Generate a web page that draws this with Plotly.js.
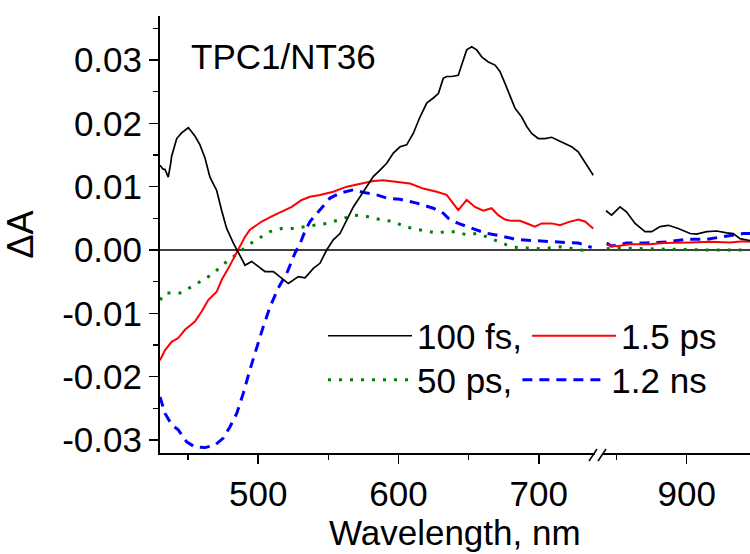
<!DOCTYPE html>
<html>
<head>
<meta charset="utf-8">
<script src="https://cdn.plot.ly/plotly-3.0.1.min.js"></script>
<style>html,body{margin:0;padding:0;background:#fff;}#chart{width:750px;height:554px;}</style>
</head>
<body>
<div id="chart"></div>
<script>
// ---- data (wavelength in nm, ΔA) ----
const seriesNames = ["100 fs,", "1.5 ps", "50 ps,", "1.2 ns"];

// 100 fs, visible segment
const wl100fsA = [430,432,433.6,435.9,437.5,438.3,441.9,445.4,450.2,454.9,458.5,462.1,465.6,470.4,474,477.5,482.3,485.8,490.6,495.3,500.1,504.8,510.8,515.5,521.5,528.6,533.4,539.3,544,548.8,553.5,558.3,563.1,567.8,572.6,577.3,582,586.8,591.6,596.3,601.1,605.8,610.5,615.3,620.1,624.8,628.4,631.9,634.3,637.9,642.6,645,648.6,652.2,655.7,659.3,664,668.8,672.3,675.9,679.5,683,687.8,691.4,694.9,699.6,704.4,709.2,713.9,718.7,723.4,728.1,731.7,735.3,738.8];
const dA100fsA = [0.0134,0.0128,0.0127,0.0115,0.0135,0.0148,0.0176,0.0185,0.0193,0.0180,0.0166,0.0145,0.0115,0.0094,0.0062,0.0034,0.0011,-0.0003,-0.0024,-0.0018,-0.0026,-0.0034,-0.0034,-0.0042,-0.0053,-0.0042,-0.0044,-0.0029,-0.0021,0.0000,0.0016,0.0026,0.0047,0.0068,0.0084,0.0100,0.0116,0.0126,0.0137,0.0153,0.0163,0.0166,0.0184,0.0210,0.0232,0.0240,0.0247,0.0271,0.0274,0.0274,0.0276,0.0292,0.0316,0.0321,0.0316,0.0305,0.0297,0.0292,0.0282,0.0263,0.0242,0.0224,0.0210,0.0195,0.0184,0.0176,0.0176,0.0178,0.0173,0.0168,0.0163,0.0155,0.0142,0.0129,0.0118];
// 100 fs, near-IR segment
const wl100fsB = [842.5,846.5,852.5,857.2,863.2,870.3,875.1,881,886.9,894,902.4,907.1,914.3,921.4,928.5,933.2,938,945.1];
const dA100fsB = [0.0062,0.0055,0.0068,0.0060,0.0042,0.0029,0.0029,0.0037,0.0039,0.0034,0.0026,0.0025,0.0029,0.0030,0.0027,0.0026,0.0018,0.0015];

// 1.5 ps
const wl15psA = [430,433.6,438.3,443,447.8,454.9,459.7,464.4,470.4,474,478.7,483.5,487,490.6,494.1,502.5,509.6,516.7,523.9,531,536.9,544,553.5,563.1,572.6,582,589.1,598.7,608.2,617.7,627.2,634.3,637.9,642.6,648.6,654.5,660.4,666.3,671.1,675.9,680.6,686.5,692.5,697.2,702,709.2,715.1,721,728.1,732.9,738.8];
const dA15psA = [-0.0174,-0.0158,-0.0145,-0.0139,-0.0126,-0.0113,-0.0097,-0.0079,-0.0066,-0.0047,-0.0029,-0.0008,0.0005,0.0021,0.0032,0.0045,0.0053,0.0060,0.0068,0.0079,0.0084,0.0087,0.0092,0.0100,0.0105,0.0109,0.0110,0.0108,0.0105,0.0097,0.0092,0.0087,0.0076,0.0063,0.0079,0.0068,0.0062,0.0066,0.0055,0.0048,0.0046,0.0046,0.0041,0.0037,0.0042,0.0042,0.0039,0.0044,0.0048,0.0045,0.0034];
const wl15psB = [843,850.1,859.6,873.8,883.3,892.9,902.4,916.6,930.9,940.3,945.1];
const dA15psB = [0.0008,0.0006,0.0009,0.0009,0.0011,0.0011,0.0012,0.0013,0.0012,0.0014,0.0013];

// 50 ps
const wl50psA = [430,433.6,444.3,454.9,466.8,478.7,485.8,492.9,500.1,508.4,516.7,526.2,533.4,536.9,548.8,558.3,567.8,577.3,586.8,596.3,603.4,611.8,620.1,627.2,634.3,640.3,648.6,655.7,662.8,670,677.1,684.2,691.4,698.5,706.8,715.1,719.9,728.1,736.5];
const dA50psA = [-0.0079,-0.0068,-0.0068,-0.0055,-0.0039,-0.0016,-0.0005,0.0008,0.0018,0.0029,0.0034,0.0034,0.0037,0.0038,0.0042,0.0048,0.0055,0.0053,0.0048,0.0045,0.0038,0.0033,0.0030,0.0027,0.0029,0.0029,0.0024,0.0026,0.0021,0.0015,0.0008,0.0004,0.0003,0.0002,0.0003,0.0005,0.0004,0.0000,-0.0001];
const wl50psB = [843,855,870,885,900,915,930,945];
const dA50psB = [0.0002,0.0003,0.0002,0.0001,0.0001,0.0000,0.0000,0.0000];

// 1.2 ns
const wl12nsA = [430,433.6,438.3,443,449,454.9,462.1,469.2,475.1,479.9,484.7,489.4,494.1,498.9,503.6,508.4,514.3,520.3,526.2,529.8,533.4,536.9,544,551.2,558.3,567.8,574.9,584.5,591.6,601.1,613,624.8,631.9,635.5,642.6,652.2,661.6,673.5,683,694.9,706.8,718.7,728.1,735.3,737.7];
const dA12nsA = [-0.0232,-0.0258,-0.0276,-0.0284,-0.0303,-0.0311,-0.0312,-0.0308,-0.0297,-0.0279,-0.0258,-0.0226,-0.0189,-0.0153,-0.0121,-0.0090,-0.0060,-0.0037,-0.0005,0.0010,0.0030,0.0045,0.0063,0.0082,0.0090,0.0095,0.0091,0.0087,0.0082,0.0080,0.0074,0.0066,0.0058,0.0050,0.0042,0.0034,0.0027,0.0022,0.0017,0.0015,0.0013,0.0012,0.0011,0.0006,0.0004];
const wl12nsB = [843,846.5,857.2,871.5,886.9,900,914.3,928.5,940.3,945.1];
const dA12nsB = [0.0011,0.0006,0.0011,0.0011,0.0013,0.0017,0.0017,0.0022,0.0026,0.0026];

// axis ticks
const xTickVals1 = [500, 600, 700];
const xTickVals2 = [900];
const yTickVals = [-0.03, -0.02, -0.01, 0.00, 0.01, 0.02, 0.03];
const yTickText = ["-0.03", "-0.02", "-0.01", "0.00", "0.01", "0.02", "0.03"];
const sampleLabel = "TPC1/NT36";
const xTitle = "Wavelength, nm";
const yTitle = "\u0394A";

// ---- styling ----
const FONT = "Liberation Sans, Arial, sans-serif";
const FS = 35;
const styles = [
  {color: "#000000", width: 1.7, dash: "solid", legend: "legend"},
  {color: "#ff0000", width: 2, dash: "solid", legend: "legend"},
  {color: "#008000", width: 3, dash: "3px,8px", legend: "legend2"},
  {color: "#0000ff", width: 3, dash: "10px,7px", legend: "legend2"}
];
const segA = [[wl100fsA, dA100fsA], [wl15psA, dA15psA], [wl50psA, dA50psA], [wl12nsA, dA12nsA]];
const segB = [[wl100fsB, dA100fsB], [wl15psB, dA15psB], [wl50psB, dA50psB], [wl12nsB, dA12nsB]];

const traces = [];
const drawOrder = [2, 3, 1, 0];
drawOrder.forEach(i => {
  const s = styles[i];
  traces.push({x: segA[i][0], y: segA[i][1], xaxis: "x", yaxis: "y", type: "scatter", mode: "lines",
    name: seriesNames[i], legend: s.legend, legendrank: i,
    line: {color: s.color, width: s.width, dash: s.dash}, showlegend: true});
  traces.push({x: segB[i][0], y: segB[i][1], xaxis: "x2", yaxis: "y", type: "scatter", mode: "lines",
    name: seriesNames[i], legend: s.legend, showlegend: false,
    line: {color: s.color, width: s.width, dash: s.dash}});
});

// geometry (px) -> paper
const L = 160, R = 750, T = 16, B = 453;
const W = R - L, H = B - T;
const px2paper = p => (p - L) / W;
const py2paper = p => (B - p) / H;
const pxPerNm = 1.403;
const brk1 = 595, brk2 = 603;

const axBase = {
  showline: true, linecolor: "#000", linewidth: 2, mirror: false,
  ticks: "outside", ticklen: 9, tickwidth: 1.5, tickcolor: "#000",
  showgrid: false, zeroline: false,
  tickfont: {family: FONT, size: FS, color: "#000"},
  minor: {ticks: "outside", ticklen: 5, tickwidth: 1.5, tickcolor: "#000", showgrid: false}
};

const layout = {
  width: 750, height: 554,
  margin: {l: L, r: 750 - R, t: T, b: 554 - B, pad: 0},
  paper_bgcolor: "#fff", plot_bgcolor: "#fff",
  font: {family: FONT, size: FS, color: "#000"},
  xaxis: Object.assign({}, axBase, {
    domain: [0, px2paper(brk1)],
    range: [430, 430 + (brk1 - L) / pxPerNm],
    tickmode: "array", tickvals: xTickVals1, ticktext: xTickVals1.map(String),
    minor: Object.assign({}, axBase.minor, {tickmode: "linear", tick0: 450, dtick: 100}),
    anchor: "y"
  }),
  xaxis2: Object.assign({}, axBase, {
    domain: [px2paper(brk2), 1],
    range: [900 - (686.7 - brk2) / pxPerNm, 900 + (R - 686.7) / pxPerNm],
    tickmode: "array", tickvals: xTickVals2, ticktext: xTickVals2.map(String),
    minor: Object.assign({}, axBase.minor, {tickmode: "linear", tick0: 850, dtick: 100}),
    anchor: "y"
  }),
  yaxis: Object.assign({}, axBase, {
    domain: [0, 1],
    range: [-(B - 250) / 6333, (250 - T) / 6333],
    tickmode: "array", tickvals: yTickVals, ticktext: yTickText,
    minor: Object.assign({}, axBase.minor, {tickmode: "linear", tick0: 0.005, dtick: 0.01}),
    title: {text: yTitle, font: {family: FONT, size: 36, color: "#000"}, standoff: 24},
    anchor: "x"
  }),
  showlegend: true,
  legend: {orientation: "h", x: px2paper(323), xanchor: "left", y: py2paper(336), yanchor: "middle",
    font: {family: FONT, size: FS, color: "#000"}, itemwidth: 84, bgcolor: "rgba(0,0,0,0)",
    borderwidth: 0, traceorder: "normal"},
  legend2: {orientation: "h", x: px2paper(323), xanchor: "left", y: py2paper(380), yanchor: "middle",
    font: {family: FONT, size: FS, color: "#000"}, itemwidth: 84, bgcolor: "rgba(0,0,0,0)",
    borderwidth: 0, traceorder: "normal"},
  shapes: [
    {type: "line", xref: "paper", yref: "y", x0: 0, x1: 1, y0: 0, y1: 0, line: {color: "#000", width: 1.5}, layer: "below"},
    {type: "line", xref: "paper", yref: "paper", x0: px2paper(589), x1: px2paper(597), y0: py2paper(461), y1: py2paper(449), line: {color: "#000", width: 1.5}},
    {type: "line", xref: "paper", yref: "paper", x0: px2paper(598), x1: px2paper(606), y0: py2paper(461), y1: py2paper(449), line: {color: "#000", width: 1.5}}
  ],
  annotations: [
    {text: sampleLabel, xref: "paper", yref: "paper", x: px2paper(189), y: py2paper(56), xanchor: "left", yanchor: "middle",
      showarrow: false, font: {family: FONT, size: FS, color: "#000"}},
    {text: xTitle, xref: "paper", yref: "paper", x: 0.5, y: py2paper(532), xanchor: "center", yanchor: "middle",
      showarrow: false, font: {family: FONT, size: FS, color: "#000"}}
  ]
};

Plotly.newPlot("chart", traces, layout, {displayModeBar: false, staticPlot: true});
</script>
</body>
</html>
